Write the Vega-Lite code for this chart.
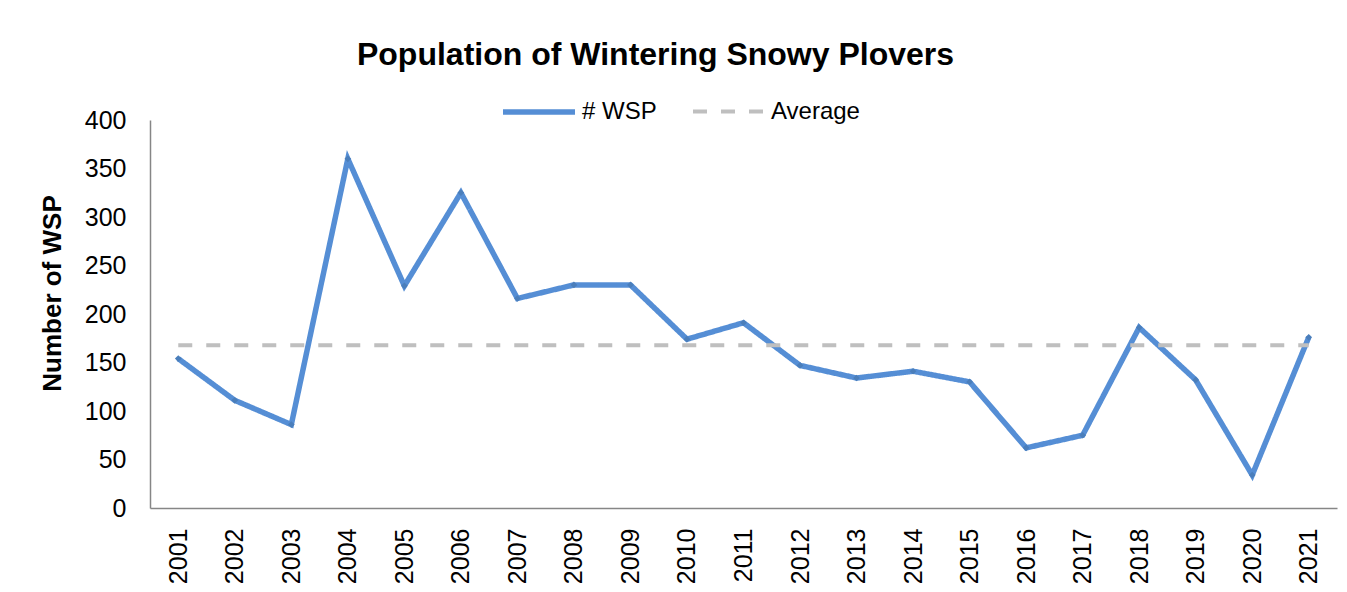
{
  "$schema": "https://vega.github.io/schema/vega-lite/v6.json",
  "width": 1187,
  "height": 388,
  "autosize": "none",
  "padding": {"left": 150, "top": 120, "right": 10, "bottom": 84},
  "background": "white",
  "config": {"view": {"stroke": null}, "font": "Liberation Sans"},
  "title": {
    "text": "Population of Wintering Snowy Plovers",
    "fontSize": 32,
    "font": "Liberation Sans",
    "fontWeight": "bold",
    "color": "black",
    "anchor": "middle",
    "dx": -88,
    "baseline": "alphabetic",
    "offset": -24,
    "frame": "group"
  },
  "data": {
    "values": [
      {"year": "2001", "series": "# WSP", "value": 154},
      {"year": "2002", "series": "# WSP", "value": 111},
      {"year": "2003", "series": "# WSP", "value": 86},
      {"year": "2004", "series": "# WSP", "value": 360},
      {"year": "2005", "series": "# WSP", "value": 229},
      {"year": "2006", "series": "# WSP", "value": 325},
      {"year": "2007", "series": "# WSP", "value": 216},
      {"year": "2008", "series": "# WSP", "value": 230},
      {"year": "2009", "series": "# WSP", "value": 230},
      {"year": "2010", "series": "# WSP", "value": 174},
      {"year": "2011", "series": "# WSP", "value": 191},
      {"year": "2012", "series": "# WSP", "value": 147},
      {"year": "2013", "series": "# WSP", "value": 134},
      {"year": "2014", "series": "# WSP", "value": 141},
      {"year": "2015", "series": "# WSP", "value": 130},
      {"year": "2016", "series": "# WSP", "value": 62},
      {"year": "2017", "series": "# WSP", "value": 75},
      {"year": "2018", "series": "# WSP", "value": 186},
      {"year": "2019", "series": "# WSP", "value": 132},
      {"year": "2020", "series": "# WSP", "value": 34},
      {"year": "2021", "series": "# WSP", "value": 176},
      {"year": "2001", "series": "Average", "value": 167.8},
      {"year": "2002", "series": "Average", "value": 167.8},
      {"year": "2003", "series": "Average", "value": 167.8},
      {"year": "2004", "series": "Average", "value": 167.8},
      {"year": "2005", "series": "Average", "value": 167.8},
      {"year": "2006", "series": "Average", "value": 167.8},
      {"year": "2007", "series": "Average", "value": 167.8},
      {"year": "2008", "series": "Average", "value": 167.8},
      {"year": "2009", "series": "Average", "value": 167.8},
      {"year": "2010", "series": "Average", "value": 167.8},
      {"year": "2011", "series": "Average", "value": 167.8},
      {"year": "2012", "series": "Average", "value": 167.8},
      {"year": "2013", "series": "Average", "value": 167.8},
      {"year": "2014", "series": "Average", "value": 167.8},
      {"year": "2015", "series": "Average", "value": 167.8},
      {"year": "2016", "series": "Average", "value": 167.8},
      {"year": "2017", "series": "Average", "value": 167.8},
      {"year": "2018", "series": "Average", "value": 167.8},
      {"year": "2019", "series": "Average", "value": 167.8},
      {"year": "2020", "series": "Average", "value": 167.8},
      {"year": "2021", "series": "Average", "value": 167.8}
    ]
  },
  "encoding": {
    "x": {
      "field": "year",
      "type": "ordinal",
      "scale": {"padding": 0.5},
      "axis": {
        "title": null,
        "labelAngle": -90,
        "labelFontSize": 25,
        "labelFont": "Liberation Sans",
        "labelColor": "black",
        "ticks": false,
        "domainColor": "#868686",
        "domainWidth": 1.5,
        "labelPadding": 20,
        "grid": false
      }
    },
    "y": {
      "field": "value",
      "type": "quantitative",
      "scale": {"domain": [0, 400], "nice": false},
      "axis": {
        "values": [0, 50, 100, 150, 200, 250, 300, 350, 400],
        "ticks": false,
        "grid": false,
        "labelPadding": 24,
        "labelFontSize": 25,
        "labelFont": "Liberation Sans",
        "labelColor": "black",
        "domainColor": "#868686",
        "domainWidth": 1.5,
        "title": "Number of WSP",
        "titleFont": "Liberation Sans",
        "titleFontSize": 26,
        "titleFontWeight": "bold",
        "titleColor": "black",
        "titleAngle": -90,
        "titleX": -98,
        "titleY": 173,
        "titleAlign": "center",
        "titleBaseline": "middle"
      }
    }
  },
  "layer": [
    {
      "mark": {"type": "line", "strokeCap": "butt"},
      "encoding": {
        "color": {
          "field": "series",
          "type": "nominal",
          "scale": {"domain": ["# WSP", "Average"], "range": ["#558ED5", "#BFBFBF"]},
          "legend": {
            "orient": "none",
            "legendX": 350,
            "legendY": -47,
            "direction": "horizontal",
            "title": null,
            "symbolType": "stroke",
            "symbolSize": 5184,
            "labelFontSize": 24,
            "labelFont": "Liberation Sans",
            "labelColor": "black",
            "labelOffset": 4,
            "columnPadding": 28
          }
        },
        "strokeDash": {
          "field": "series",
          "type": "nominal",
          "scale": {"domain": ["# WSP", "Average"], "range": [[1, 0], [14, 14]]}
        },
        "strokeWidth": {
          "field": "series",
          "type": "nominal",
          "scale": {"domain": ["# WSP", "Average"], "range": [5.5, 4]}
        }
      }
    },
    {
      "transform": [{"filter": "datum.series === '# WSP'"}],
      "mark": {"type": "point", "shape": "diamond", "filled": true, "size": 45, "color": "#4A7EBB", "opacity": 1}
    }
  ]
}
